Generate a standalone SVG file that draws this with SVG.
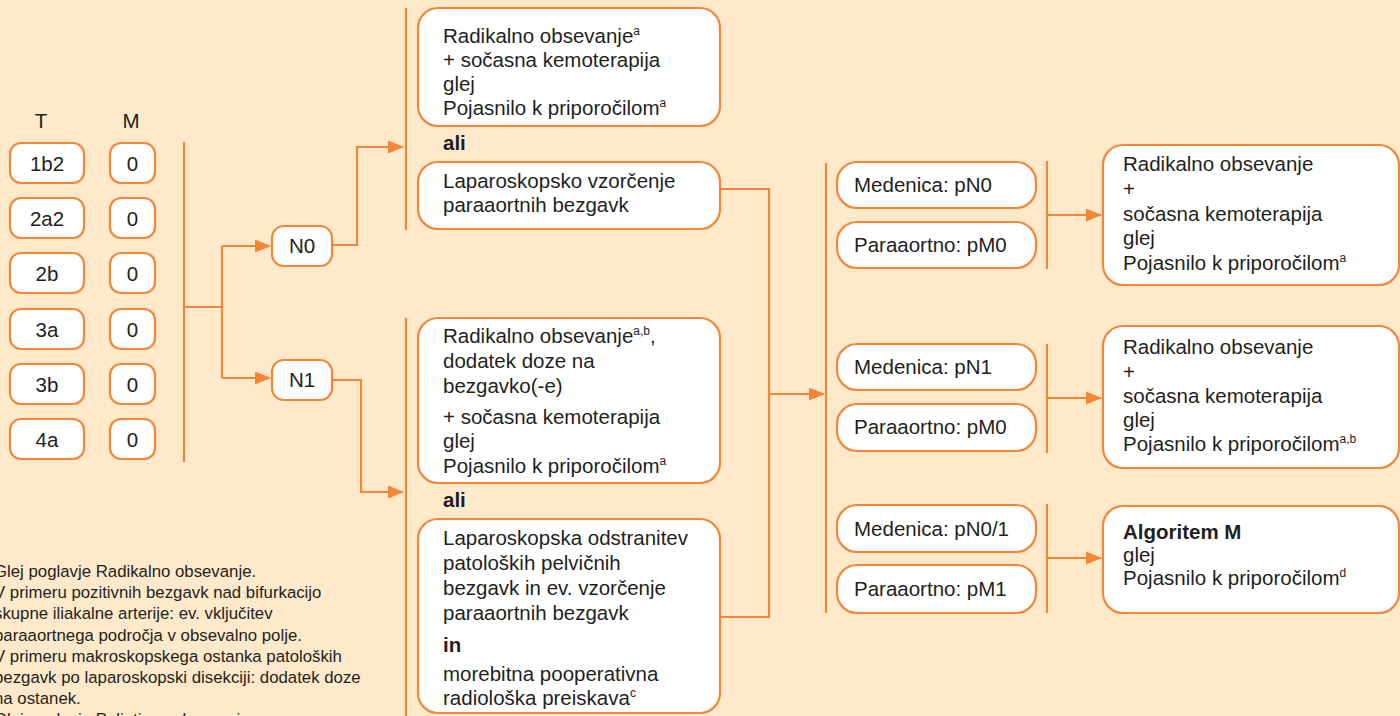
<svg xmlns="http://www.w3.org/2000/svg" width="1400" height="716" viewBox="0 0 1400 716">
<defs>
<style>
.bg{fill:#FEEACB}
.box{fill:#FFFFFF;stroke:#F4863A;stroke-width:2.2}
.ln{fill:none;stroke:#F4863A;stroke-width:2.2}
.t{font-family:"Liberation Sans",Arial,sans-serif;font-size:20.5px;fill:#231F20}
.c{text-anchor:middle}
.b{font-weight:bold}
.fn{font-family:"Liberation Sans",Arial,sans-serif;font-size:16.8px;fill:#231F20}
.sup{font-size:12px}
</style>
<marker id="arr" markerWidth="16" markerHeight="13" refX="15" refY="6.5" orient="auto" markerUnits="userSpaceOnUse">
<path d="M0,0 L16,6.5 L0,13 z" fill="#F4863A"/>
</marker>
</defs>
<rect class="bg" x="0" y="0" width="1400" height="716"/>

<g id="headers">
<text class="t c" x="41" y="128">T</text>
<text class="t c" x="131" y="128">M</text>
</g>

<g id="t-1b2"><rect class="box" x="10" y="143" width="74" height="40" rx="11"/><text class="t c" x="47" y="171">1b2</text></g>
<g id="m-1"><rect class="box" x="110" y="143" width="45" height="40" rx="11"/><text class="t c" x="132.5" y="171">0</text></g>
<g id="t-2a2"><rect class="box" x="10" y="198" width="74" height="40" rx="11"/><text class="t c" x="47" y="226">2a2</text></g>
<g id="m-2"><rect class="box" x="110" y="198" width="45" height="40" rx="11"/><text class="t c" x="132.5" y="226">0</text></g>
<g id="t-2b"><rect class="box" x="10" y="253" width="74" height="40" rx="11"/><text class="t c" x="47" y="281">2b</text></g>
<g id="m-3"><rect class="box" x="110" y="253" width="45" height="40" rx="11"/><text class="t c" x="132.5" y="281">0</text></g>
<g id="t-3a"><rect class="box" x="10" y="309" width="74" height="40" rx="11"/><text class="t c" x="47" y="337">3a</text></g>
<g id="m-4"><rect class="box" x="110" y="309" width="45" height="40" rx="11"/><text class="t c" x="132.5" y="337">0</text></g>
<g id="t-3b"><rect class="box" x="10" y="364" width="74" height="40" rx="11"/><text class="t c" x="47" y="392">3b</text></g>
<g id="m-5"><rect class="box" x="110" y="364" width="45" height="40" rx="11"/><text class="t c" x="132.5" y="392">0</text></g>
<g id="t-4a"><rect class="box" x="10" y="419" width="74" height="40" rx="11"/><text class="t c" x="47" y="447">4a</text></g>
<g id="m-6"><rect class="box" x="110" y="419" width="45" height="40" rx="11"/><text class="t c" x="132.5" y="447">0</text></g>

<g id="connectors">
<path class="ln" d="M184,142 V462"/>
<path class="ln" d="M184,307 H222"/>
<path class="ln" d="M222,246 V378"/>
<path class="ln" d="M222,246 H270" marker-end="url(#arr)"/>
<path class="ln" d="M222,378 H270" marker-end="url(#arr)"/>
<path class="ln" d="M332,245 H357 V147 H403" marker-end="url(#arr)"/>
<path class="ln" d="M332,380 H361 V492 H403" marker-end="url(#arr)"/>
<path class="ln" d="M406,8 V230"/>
<path class="ln" d="M406,318 V716"/>
<path class="ln" d="M720,189 H769 V617 H720"/>
<path class="ln" d="M769,394 H824" marker-end="url(#arr)"/>
<path class="ln" d="M826,163 V613"/>
<path class="ln" d="M1047,161 V269"/>
<path class="ln" d="M1047,344 V453"/>
<path class="ln" d="M1047,504 V613"/>
<path class="ln" d="M1047,215 H1101" marker-end="url(#arr)"/>
<path class="ln" d="M1047,398 H1101" marker-end="url(#arr)"/>
<path class="ln" d="M1047,558 H1101" marker-end="url(#arr)"/>
</g>

<g id="n0"><rect class="box" x="272" y="226" width="60" height="40" rx="12"/><text class="t c" x="302" y="253">N0</text></g>
<g id="n1"><rect class="box" x="272" y="360" width="60" height="40" rx="12"/><text class="t c" x="302" y="387">N1</text></g>

<g id="n0-opt1">
<rect class="box" x="418" y="8" width="302" height="118" rx="20"/>
<text class="t"><tspan x="443" y="43">Radikalno obsevanje<tspan class="sup" dy="-8">a</tspan></tspan><tspan x="443" y="67">+ sočasna kemoterapija</tspan><tspan x="443" y="91">glej</tspan><tspan x="443" y="115">Pojasnilo k priporočilom<tspan class="sup" dy="-8">a</tspan></tspan></text>
</g>
<g id="ali-1"><text class="t b" x="443" y="150">ali</text></g>
<g id="n0-opt2">
<rect class="box" x="418" y="162" width="302" height="67" rx="20"/>
<text class="t"><tspan x="443" y="188">Laparoskopsko vzorčenje</tspan><tspan x="443" y="212">paraaortnih bezgavk</tspan></text>
</g>

<g id="n1-opt1">
<rect class="box" x="418" y="318" width="302" height="165" rx="20"/>
<text class="t"><tspan x="443" y="343">Radikalno obsevanje<tspan class="sup" dy="-8">a,b</tspan><tspan dy="8">,</tspan></tspan><tspan x="443" y="368">dodatek doze na</tspan><tspan x="443" y="393">bezgavko(-e)</tspan><tspan x="443" y="424">+ sočasna kemoterapija</tspan><tspan x="443" y="448">glej</tspan><tspan x="443" y="473">Pojasnilo k priporočilom<tspan class="sup" dy="-8">a</tspan></tspan></text>
</g>
<g id="ali-2"><text class="t b" x="443" y="507">ali</text></g>
<g id="n1-opt2">
<rect class="box" x="418" y="519" width="302" height="194" rx="20"/>
<text class="t"><tspan x="443" y="545">Laparoskopska odstranitev</tspan><tspan x="443" y="570">patoloških pelvičnih</tspan><tspan x="443" y="595">bezgavk in ev. vzorčenje</tspan><tspan x="443" y="620">paraaortnih bezgavk</tspan><tspan x="443" y="652" font-weight="bold">in</tspan><tspan x="443" y="681">morebitna pooperativna</tspan><tspan x="443" y="705">radiološka preiskava<tspan class="sup" dy="-8">c</tspan></tspan></text>
</g>

<g id="med-pn0"><rect class="box" x="837" y="162" width="199" height="46" rx="20"/><text class="t" x="854" y="192">Medenica: pN0</text></g>
<g id="para-pm0-a"><rect class="box" x="837" y="222" width="199" height="46" rx="20"/><text class="t" x="854" y="252">Paraaortno: pM0</text></g>
<g id="med-pn1"><rect class="box" x="837" y="344" width="199" height="46" rx="20"/><text class="t" x="854" y="374">Medenica: pN1</text></g>
<g id="para-pm0-b"><rect class="box" x="837" y="404" width="199" height="47" rx="20"/><text class="t" x="854" y="434">Paraaortno: pM0</text></g>
<g id="med-pn01"><rect class="box" x="837" y="505" width="199" height="47" rx="20"/><text class="t" x="854" y="536">Medenica: pN0/1</text></g>
<g id="para-pm1"><rect class="box" x="837" y="565" width="199" height="48" rx="20"/><text class="t" x="854" y="596">Paraaortno: pM1</text></g>

<g id="res-1">
<rect class="box" x="1103" y="145" width="296" height="140" rx="20"/>
<text class="t"><tspan x="1123" y="171">Radikalno obsevanje</tspan><tspan x="1123" y="196">+</tspan><tspan x="1123" y="221">sočasna kemoterapija</tspan><tspan x="1123" y="245">glej</tspan><tspan x="1123" y="270">Pojasnilo k priporočilom<tspan class="sup" dy="-8">a</tspan></tspan></text>
</g>
<g id="res-2">
<rect class="box" x="1103" y="326" width="296" height="142" rx="20"/>
<text class="t"><tspan x="1123" y="354">Radikalno obsevanje</tspan><tspan x="1123" y="379">+</tspan><tspan x="1123" y="403">sočasna kemoterapija</tspan><tspan x="1123" y="427">glej</tspan><tspan x="1123" y="451">Pojasnilo k priporočilom<tspan class="sup" dy="-8">a,b</tspan></tspan></text>
</g>
<g id="res-3">
<rect class="box" x="1103" y="506" width="296" height="107" rx="20"/>
<text class="t"><tspan x="1123" y="539" font-weight="bold">Algoritem M</tspan><tspan x="1123" y="562">glej</tspan><tspan x="1123" y="585">Pojasnilo k priporočilom<tspan class="sup" dy="-8">d</tspan></tspan></text>
</g>

<g id="footnotes">
<text class="fn"><tspan x="-6" y="577">Glej poglavje Radikalno obsevanje.</tspan><tspan x="-6" y="598">V primeru pozitivnih bezgavk nad bifurkacijo</tspan><tspan x="-6" y="619">skupne iliakalne arterije: ev. vključitev</tspan><tspan x="-6" y="641">paraaortnega področja v obsevalno polje.</tspan><tspan x="-6" y="662">V primeru makroskopskega ostanka patoloških</tspan><tspan x="-6" y="683">bezgavk po laparoskopski disekciji: dodatek doze</tspan><tspan x="-6" y="704">na ostanek.</tspan><tspan x="-6" y="725">Glej poglavje Paliativno obsevanje.</tspan></text>
</g>
</svg>
